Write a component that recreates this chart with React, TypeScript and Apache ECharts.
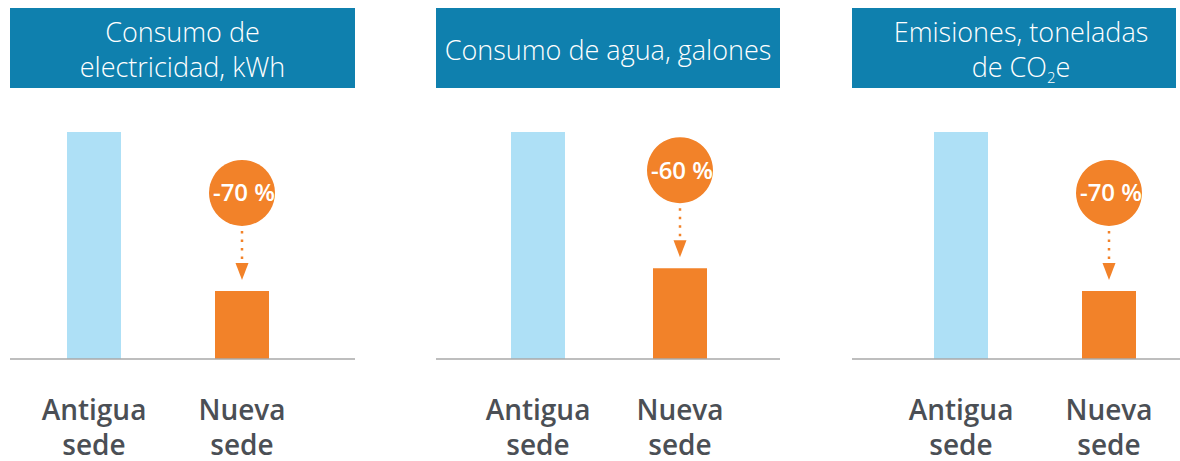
import React, { useEffect, useRef } from "react";
import * as echarts from "echarts";

// ---- data ----
const categories = ["Antigua\nsede", "Nueva\nsede"];
const panelTitles = ["Consumo de\nelectricidad, kWh", "Consumo de agua, galones", "Emisiones, toneladas\nde CO{s|2}e"];
const oldSiteValues = [100, 100, 100];
const newSiteValues = [30, 40, 30];
const changeLabels = ["-70 %", "-60 %", "-70 %"];

// ---- layout / style ----
const W = 1180;
const H = 461;
const gridLefts = [20, 467, 887];
const gridWidths = [296, 284, 296];
const boxes = [
  { x: 10, w: 345 },
  { x: 436, w: 344 },
  { x: 852, w: 324 },
];
const titleCenters = [182.5, 608, 1021];
const baselines = [
  [10, 355],
  [436, 780],
  [852, 1180],
];
const GRID_TOP = 132;
const BASE_Y = 359;

const BLUE_BOX = "#0f80ae";
const LIGHT = "#aee0f6";
const ORANGE = "#f28229";
const LABEL = "#4b4f55";
const FONT = "'Open Sans', 'Noto Sans', sans-serif";

export default function App() {
  const ref = useRef<HTMLDivElement>(null);

  useEffect(() => {
    if (!ref.current) return;
    const chart = echarts.init(ref.current, undefined, { renderer: "svg" });

    const grids: any[] = [];
    const xAxes: any[] = [];
    const yAxes: any[] = [];
    const series: any[] = [];
    const graphics: any[] = [];

    for (let i = 0; i < 3; i++) {
      grids.push({
        left: gridLefts[i],
        width: gridWidths[i],
        top: GRID_TOP,
        height: BASE_Y - GRID_TOP,
        containLabel: false,
        outerBoundsMode: "none",
      });
      xAxes.push({
        type: "category",
        gridIndex: i,
        data: categories,
        axisLine: { show: false },
        axisTick: { show: false },
        axisLabel: {
          margin: 32,
          fontSize: 28,
          fontWeight: 600,
          fontFamily: FONT,
          color: LABEL,
          lineHeight: 35,
        },
      });
      yAxes.push({
        type: "value",
        gridIndex: i,
        min: 0,
        max: 100,
        show: false,
        splitLine: { show: false },
      });
      series.push({
        type: "bar",
        xAxisIndex: i,
        yAxisIndex: i,
        barWidth: 54,
        data: [
          { value: oldSiteValues[i], itemStyle: { color: LIGHT } },
          { value: newSiteValues[i], itemStyle: { color: ORANGE } },
        ],
        z: 2,
      });
      const label = changeLabels[i];
      series.push({
        type: "custom",
        xAxisIndex: i,
        yAxisIndex: i,
        clip: false,
        z: 3,
        data: [[1, newSiteValues[i]]],
        renderItem: (params: any, api: any) => {
          const p = api.coord([api.value(0), api.value(1)]);
          const cx = p[0];
          const top = p[1];
          const cy = top - 98;
          const r = 33;
          const tip = top - 11;
          const triH = 17;
          const triW = 13;
          return {
            type: "group",
            children: [
              {
                type: "line",
                shape: { x1: cx, y1: cy + r + 5, x2: cx, y2: tip - triH - 2 },
                style: { stroke: ORANGE, lineWidth: 2.5, lineDash: [2.5, 6] },
              },
              {
                type: "polygon",
                shape: {
                  points: [
                    [cx - triW / 2, tip - triH],
                    [cx + triW / 2, tip - triH],
                    [cx, tip],
                  ],
                },
                style: { fill: ORANGE },
              },
              {
                type: "circle",
                shape: { cx, cy, r },
                style: { fill: ORANGE },
              },
              {
                type: "text",
                style: {
                  text: label,
                  x: cx + 2,
                  y: cy - 1,
                  fill: "#ffffff",
                  fontSize: 24,
                  fontWeight: 600,
                  fontFamily: FONT,
                  align: "center",
                  verticalAlign: "middle",
                },
              },
            ],
          };
        },
      });

      // title box
      graphics.push({
        type: "rect",
        shape: { x: boxes[i].x, y: 8, width: boxes[i].w, height: 80 },
        style: { fill: BLUE_BOX },
        silent: true,
      });
      graphics.push({
        type: "text",
        x: titleCenters[i],
        y: 49,
        style: {
          text: i === 2 ? "{m|Emisiones, toneladas}\n{m|de CO}{s|2}{m|e}" : panelTitles[i],
          fill: "#ffffff",
          fontSize: 27,
          fontWeight: 300,
          fontFamily: FONT,
          lineHeight: 35,
          align: "center",
          verticalAlign: "middle",
          rich: {
            m: { fill: "#ffffff", fontSize: 27, fontWeight: 300, fontFamily: FONT, lineHeight: 35 },
            s: { fill: "#ffffff", fontSize: 15, fontWeight: 300, fontFamily: FONT, lineHeight: 15, verticalAlign: "bottom" },
          },
        },
        silent: true,
      });
      // baseline
      graphics.push({
        type: "line",
        shape: { x1: baselines[i][0], y1: BASE_Y, x2: baselines[i][1], y2: BASE_Y },
        style: { stroke: "#a9a9a9", lineWidth: 1.5 },
        z: 10,
        silent: true,
      });
    }

    chart.setOption({
      animation: false,
      backgroundColor: "#ffffff",
      grid: grids,
      xAxis: xAxes,
      yAxis: yAxes,
      series,
      graphic: graphics,
    });

    return () => chart.dispose();
  }, []);

  return (
    <div
      ref={ref}
      style={{ position: "fixed", left: 0, top: 0, width: W, height: H }}
    />
  );
}
